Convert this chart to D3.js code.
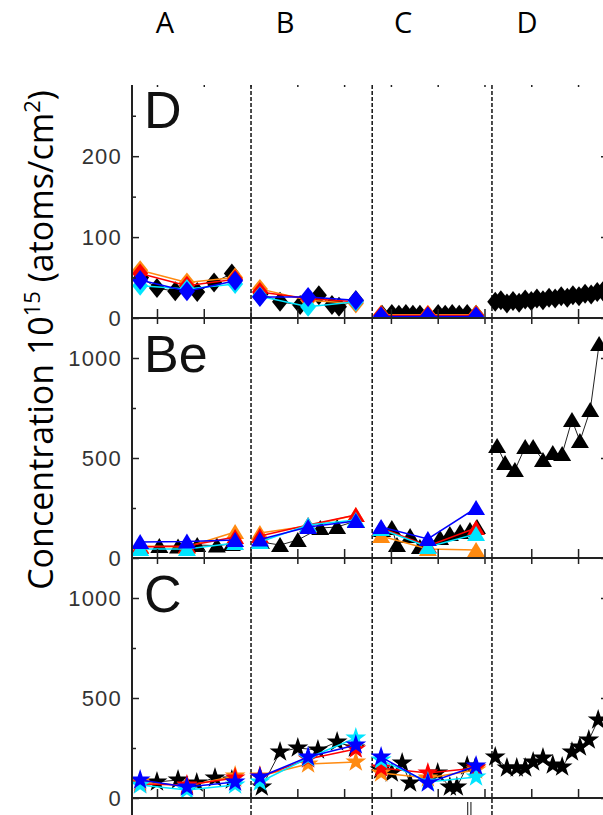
<!DOCTYPE html>
<html>
<head>
<meta charset="utf-8">
<script src="https://cdn.jsdelivr.net/npm/d3@7"></script>
<style>
  body { margin: 0; background: #fff; }
  svg { display: block; }
</style>
</head>
<body>
<div id="chart"></div>
<script>
// column headers and where they sit on the x axis
const sections = ["A", "B", "C", "D"];
const sectionPos = [1.17, 3.74, 6.26, 8.91];
const dividers = [3.01, 5.60, 8.16];
const xTicks = [1, 2, 3, 4, 5, 6, 7, 8, 9, 10];

// panels (top to bottom)
const panelNames = ["D", "Be", "C"];
const yMax = [288, 1200, 1200];
const yMajor = [[0, 100, 200], [0, 500, 1000], [0, 500, 1000]];
const yMinor = [[50, 150, 250], [250, 750], [250, 750]];

// x of the coloured series (3 points in each of A, B, C)
const colX = [0.64, 1.64, 2.67, 3.20, 4.23, 5.25, 5.79, 6.79, 7.82];

// D (diamonds)
const dOrange = [59, 44, 50, 36, 22, 18, 4, 4, 4];
const dRed    = [55, 40, 48, 32, 24, 20, 3, 3, 3];
const dCyan   = [40, 36, 42, 27, 14, 20, 1, 1, 1];
const dBlue   = [47, 33, 46, 26, 26, 22, 2, 2, 2];
const dBlack = [
  [[0.66, 50], [1.0, 37], [1.39, 33], [1.86, 32], [2.22, 44], [2.6, 55]],
  [[3.22, 30], [3.63, 20], [4.06, 16], [4.46, 28], [4.74, 16], [4.89, 14], [5.25, 22]],
  [[5.81, 4], [6.02, 5], [6.17, 4], [6.32, 5], [6.47, 4], [6.62, 4], [7.01, 5], [7.16, 4], [7.31, 5], [7.46, 4], [7.63, 5], [7.82, 4]],
  [[8.23, 20], [8.35, 22], [8.48, 18], [8.61, 21], [8.74, 19], [8.87, 23], [9.0, 21], [9.12, 24], [9.25, 22], [9.38, 25],
   [9.51, 24], [9.64, 27], [9.77, 25], [9.89, 28], [10.02, 27], [10.15, 30], [10.28, 29], [10.41, 32], [10.53, 33]]
];

// Be (triangles)
const beOrange = [60, 55, 130, 125, 160, 215, 110, 45, 40];
const beRed    = [55, 60, 105, 110, 165, 215, 150, 60, 150];
const beCyan   = [45, 45, 75, 80, 165, 190, 145, 55, 120];
const beBlue   = [80, 82, 90, 92, 155, 185, 155, 95, 250];
const beBlack = [
  [[1.05, 60], [1.45, 58], [1.86, 65], [2.28, 62], [2.6, 70]],
  [[3.22, 80], [3.63, 65], [4.01, 90], [4.49, 150], [4.85, 155], [5.25, 185]],
  [[5.81, 140], [6.02, 150], [6.13, 65], [6.41, 110], [6.62, 55], [7.05, 100], [7.26, 120], [7.48, 130], [7.69, 140], [7.84, 155]],
  [[8.27, 560], [8.44, 475], [8.65, 440], [8.87, 555], [9.04, 555], [9.25, 490], [9.46, 525], [9.66, 520],
   [9.87, 690], [10.04, 585], [10.26, 740], [10.45, 1070]]
];

// C (stars)
const cOrange = [80, 60, 110, 110, 170, 180, 125, 100, 140];
const cRed    = [70, 65, 100, 105, 195, 245, 150, 125, 150];
const cCyan   = [65, 40, 65, 80, 200, 300, 190, 80, 105];
const cBlue   = [90, 55, 80, 105, 205, 265, 205, 75, 160];
const cBlack = [
  [[1.0, 80], [1.45, 90], [1.85, 75], [2.24, 100], [2.6, 90]],
  [[3.24, 55], [3.63, 230], [4.01, 250], [4.44, 240], [4.85, 280], [5.23, 250]],
  [[5.77, 140], [6.02, 125], [6.24, 175], [6.41, 75], [7.0, 125], [7.26, 55], [7.41, 55], [7.63, 160], [7.8, 150]],
  [[8.23, 205], [8.48, 150], [8.69, 150], [8.87, 150], [9.04, 180], [9.25, 200], [9.46, 165], [9.66, 155],
   [9.87, 230], [10.04, 255], [10.23, 290], [10.43, 390]]
];

const width = 603;
const height = 815;
const left = 132, right = 608;
const panelTop = [85, 318, 558];
const panelBottom = [318, 558, 798];

const colors = { orange: "#ff8a10", red: "#ff0000", cyan: "#00e5ff", blue: "#0000ff", black: "#000" };

const svg = d3.select("#chart")
  .append("svg")
  .attr("width", width)
  .attr("height", height)
  .attr("viewBox", [0, 0, width, height]);

const x = d3.scaleLinear()
  .domain([0.466, 10.64])
  .range([left, right]);

// marker shapes
const shapes = {
  diamond: "M0,-10L8,0L0,10L-8,0Z",
  triangle: "M0,-8L9,7L-9,7Z",
  star: d3.symbol(d3.symbolStar, 135)()
};

const panelData = [
  { black: dBlack, orange: dOrange, red: dRed, cyan: dCyan, blue: dBlue, shape: "diamond" },
  { black: beBlack, orange: beOrange, red: beRed, cyan: beCyan, blue: beBlue, shape: "triangle" },
  { black: cBlack, orange: cOrange, red: cRed, cyan: cCyan, blue: cBlue, shape: "star" }
];

function drawPanel(i) {
  const p = panelData[i];
  const y = d3.scaleLinear()
    .domain([0, yMax[i]])
    .range([panelBottom[i], panelTop[i]]);

  svg.append("clipPath")
    .attr("id", "clip" + i)
    .append("rect")
    .attr("x", left)
    .attr("y", panelTop[i])
    .attr("width", right - left)
    .attr("height", panelBottom[i] - panelTop[i]);

  const g = svg.append("g").attr("clip-path", `url(#clip${i})`);
  const line = d3.line().x(d => x(d[0])).y(d => y(d[1]));

  // black series, one run per section
  p.black.forEach(run => {
    g.append("path")
      .attr("d", line(run))
      .attr("fill", "none")
      .attr("stroke", "#222")
      .attr("stroke-width", 1);
    g.selectAll(null)
      .data(run)
      .join("path")
      .attr("d", shapes[p.shape])
      .attr("transform", d => `translate(${x(d[0])},${y(d[1])})`)
      .attr("fill", colors.black);
  });

  // coloured series
  ["orange", "red", "cyan", "blue"].forEach(key => {
    const pts = colX.map((cx, k) => [cx, p[key][k]]);
    [0, 1, 2].forEach(s => {
      g.append("path")
        .attr("d", line(pts.slice(s * 3, s * 3 + 3)))
        .attr("fill", "none")
        .attr("stroke", colors[key])
        .attr("stroke-width", 1.5);
    });
    g.selectAll(null)
      .data(pts)
      .join("path")
      .attr("d", shapes[p.shape])
      .attr("transform", d => `translate(${x(d[0])},${y(d[1])})`)
      .attr("fill", colors[key]);
  });

  // left axis ticks + labels
  svg.append("g")
    .attr("transform", `translate(${left},0)`)
    .call(d3.axisLeft(y).tickValues(yMajor[i]).tickSize(-7).tickPadding(10).tickFormat(d3.format("d")))
    .call(a => a.select(".domain").remove())
    .call(a => a.selectAll("line").attr("stroke", "#222").attr("stroke-width", 1.5))
    .call(a => a.selectAll("text")
      .attr("fill", "#333")
      .style("font-family", "'Liberation Sans', Arial, sans-serif")
      .style("font-size", "22px")
      .style("letter-spacing", "1.2px"));
  svg.append("g")
    .attr("transform", `translate(${left},0)`)
    .call(d3.axisLeft(y).tickValues(yMinor[i]).tickSize(-4).tickFormat(""))
    .call(a => a.select(".domain").remove())
    .call(a => a.selectAll("line").attr("stroke", "#222").attr("stroke-width", 1.5));

  // right axis ticks (axis itself just outside the picture)
  svg.append("g")
    .attr("transform", `translate(${right},0)`)
    .call(d3.axisRight(y).tickValues(yMajor[i]).tickSize(-7).tickFormat(""))
    .call(a => a.select(".domain").remove())
    .call(a => a.selectAll("line").attr("stroke", "#222").attr("stroke-width", 1.5));

  // bottom axis
  svg.append("g")
    .attr("transform", `translate(0,${panelBottom[i]})`)
    .call(d3.axisBottom(x).tickValues(xTicks).tickSize(-9).tickFormat(""))
    .call(a => a.select(".domain").remove())
    .call(a => a.selectAll("line").attr("stroke", "#222").attr("stroke-width", 1.5));
  svg.append("line")
    .attr("x1", left).attr("x2", width)
    .attr("y1", panelBottom[i]).attr("y2", panelBottom[i])
    .attr("stroke", "#222")
    .attr("stroke-width", 2);

  // top ticks
  svg.append("g")
    .attr("transform", `translate(0,${panelTop[i]})`)
    .call(d3.axisTop(x).tickValues(xTicks).tickSize(i === 0 ? -2 : -6).tickFormat(""))
    .call(a => a.select(".domain").remove())
    .call(a => a.selectAll("line").attr("stroke", "#222").attr("stroke-width", 1.5));

  // element label
  svg.append("text")
    .attr("x", 144)
    .attr("y", panelTop[i] + (i === 0 ? 43 : 54))
    .style("font-family", "'Liberation Sans', Arial, sans-serif")
    .style("font-size", "52px")
    .attr("fill", "#111")
    .text(panelNames[i]);
}

// section dividers
svg.append("g")
  .selectAll("line")
  .data(dividers)
  .join("line")
  .attr("x1", d => x(d)).attr("x2", d => x(d))
  .attr("y1", panelTop[0]).attr("y2", height)
  .attr("stroke", "#111")
  .attr("stroke-width", 1.5)
  .attr("stroke-dasharray", "4,2");

panelData.forEach((p, i) => drawPanel(i));

// left axis line
svg.append("line")
  .attr("x1", left).attr("x2", left)
  .attr("y1", panelTop[0]).attr("y2", height)
  .attr("stroke", "#222")
  .attr("stroke-width", 2);

// small break mark under the bottom axis
svg.append("g")
  .selectAll("line")
  .data([7.64, 7.71])
  .join("line")
  .attr("x1", d => x(d)).attr("x2", d => x(d))
  .attr("y1", 802).attr("y2", height)
  .attr("stroke", "#444")
  .attr("stroke-width", 1.3);

// column headers
svg.append("g")
  .selectAll("text")
  .data(sections)
  .join("text")
  .attr("x", (d, i) => x(sectionPos[i]))
  .attr("y", 33)
  .attr("text-anchor", "middle")
  .style("font-family", "'Open Sans', sans-serif")
  .style("font-size", "29px")
  .text(d => d);

// y title
const yt = svg.append("text")
  .attr("transform", "translate(53,340) rotate(-90)")
  .attr("text-anchor", "middle")
  .style("font-family", "'Open Sans', sans-serif")
  .style("font-size", "34px");
yt.append("tspan").text("Concentration 10");
yt.append("tspan").attr("dy", -13).style("font-size", "22px").text("15");
yt.append("tspan").attr("dy", 13).text(" (atoms/cm");
yt.append("tspan").attr("dy", -13).style("font-size", "22px").text("2");
yt.append("tspan").attr("dy", 13).text(")");
</script>
</body>
</html>
